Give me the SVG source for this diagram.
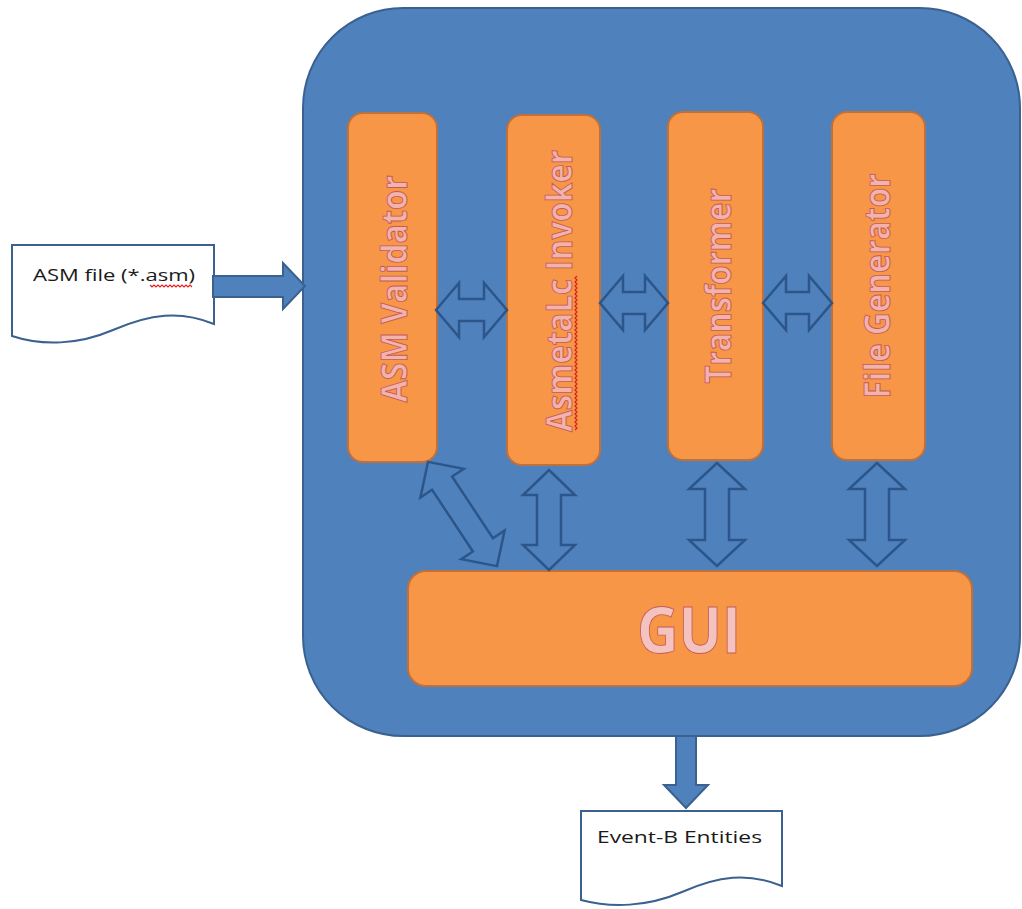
<svg xmlns="http://www.w3.org/2000/svg" width="1022" height="909" viewBox="0 0 1022 909">
  <style>
    .frame { fill: #4F81BD; stroke: #3A6190; stroke-width: 2; }
    .module { fill: #F79646; stroke: #C0703A; stroke-width: 2; }
    .doc { fill: #FFFFFF; stroke: #3A6190; stroke-width: 2; }
    .flow { fill: #4F81BD; stroke: #3A6190; stroke-width: 2; }
    .link { fill: none; stroke: #2C5689; stroke-width: 2.5; stroke-linejoin: miter; }
    .label { font-family: "Open Sans", "Liberation Sans", sans-serif; font-weight: 700; fill: #F2B2AD; stroke: #C65A55; stroke-width: 0.9; text-anchor: middle; }
    .doctext { font-family: "Open Sans", "Liberation Sans", sans-serif; font-size: 16px; fill: #1A1A1A; }
    .squiggle { fill: none; stroke: #E02020; stroke-width: 1.2; }
  </style>
  <rect width="1022" height="909" fill="#FFFFFF"/>

  <!-- system container -->
  <g id="system">
    <rect class="frame" x="303" y="8" width="717" height="728" rx="100" ry="100"/>
  </g>

  <!-- input document -->
  <g id="asm-file">
    <path class="doc" d="M12,245 H214 V324 C180,310 150,314 113,330 C78,345 42,346 12,336 Z"/>
    <text class="doctext" x="33" y="281" textLength="162" lengthAdjust="spacingAndGlyphs">ASM file (*.asm)</text>
    <path class="squiggle" d="M150,285 l2,2 l2,-2 l2,2 l2,-2 l2,2 l2,-2 l2,2 l2,-2 l2,2 l2,-2 l2,2 l2,-2 l2,2 l2,-2 l2,2 l2,-2 l2,2 l2,-2 l2,2 l2,-2 l2,2"/>
  </g>

  <!-- output document -->
  <g id="eventb-entities">
    <path class="doc" d="M581,811 H782 V886 C748,872 718,876 682,892 C647,907 611,908 581,900 Z"/>
    <text class="doctext" x="597" y="843" textLength="165" lengthAdjust="spacingAndGlyphs">Event-B Entities</text>
  </g>

  <!-- modules -->
  <g id="asm-validator">
    <rect class="module" x="348" y="113" width="89" height="349" rx="15" ry="15"/>
    <text class="label" font-size="35" transform="translate(407,289) rotate(-90)" textLength="227" lengthAdjust="spacingAndGlyphs">ASM Validator</text>
  </g>
  <g id="asmetalc-invoker">
    <rect class="module" x="507" y="115" width="93" height="350" rx="15" ry="15"/>
    <text class="label" font-size="35" transform="translate(572,291) rotate(-90)" textLength="282" lengthAdjust="spacingAndGlyphs">AsmetaLc Invoker</text>
    <path class="squiggle" d="M575,430 l2,-2 l-2,-2 l2,-2 l-2,-2 l2,-2 l-2,-2 l2,-2 l-2,-2 l2,-2 l-2,-2 l2,-2 l-2,-2 l2,-2 l-2,-2 l2,-2 l-2,-2 l2,-2 l-2,-2 l2,-2 l-2,-2 l2,-2 l-2,-2 l2,-2 l-2,-2 l2,-2 l-2,-2 l2,-2 l-2,-2 l2,-2 l-2,-2 l2,-2 l-2,-2 l2,-2 l-2,-2 l2,-2 l-2,-2 l2,-2 l-2,-2 l2,-2 l-2,-2 l2,-2 l-2,-2 l2,-2 l-2,-2 l2,-2 l-2,-2 l2,-2 l-2,-2 l2,-2 l-2,-2 l2,-2 l-2,-2 l2,-2 l-2,-2 l2,-2 l-2,-2 l2,-2 l-2,-2 l2,-2 l-2,-2 l2,-2 l-2,-2 l2,-2 l-2,-2 l2,-2 l-2,-2 l2,-2 l-2,-2 l2,-2 l-2,-2 l2,-2 l-2,-2 l2,-2 l-2,-2 l2,-2 l-2,-2 l2,-2"/>
  </g>
  <g id="transformer">
    <rect class="module" x="668" y="112" width="95" height="348" rx="15" ry="15"/>
    <text class="label" font-size="35" transform="translate(731,286) rotate(-90)" textLength="195" lengthAdjust="spacingAndGlyphs">Transformer</text>
  </g>
  <g id="file-generator">
    <rect class="module" x="832" y="112" width="93" height="348" rx="15" ry="15"/>
    <text class="label" font-size="35" transform="translate(890,286) rotate(-90)" textLength="225" lengthAdjust="spacingAndGlyphs">File Generator</text>
  </g>
  <g id="gui">
    <rect class="module" x="408" y="571" width="564" height="115" rx="18" ry="18"/>
    <text class="label" font-size="64" x="689" y="653" textLength="104" lengthAdjust="spacingAndGlyphs" style="fill:#F4C3C0">GUI</text>
  </g>

  <!-- connectors -->
  <g id="connectors">
    <path class="flow" d="M213,276 H283 V263 L305,286 L283,309 V297 H213 Z"/>
    <path class="flow" d="M676,736 H696 V785 H708 L686,808 L664,785 H676 Z"/>
    <path class="link" d="M436,310 L459,283 L459,299 L484,299 L484,283 L507,310 L484,337 L484,321 L459,321 L459,337 Z"/>
    <path class="link" d="M600,303 L623,276 L623,292 L645,292 L645,276 L668,303 L645,330 L645,314 L623,314 L623,330 Z"/>
    <path class="link" d="M763,303 L786,276 L786,292 L809,292 L809,276 L832,303 L809,330 L809,314 L786,314 L786,330 Z"/>
    <path class="link" d="M549,470 L575,495 L561,495 L561,545 L575,545 L549,570 L523,545 L537,545 L537,495 L523,495 Z"/>
    <path class="link" d="M717,463 L745,489 L729,489 L729,540 L745,540 L717,566 L689,540 L705,540 L705,489 L689,489 Z"/>
    <path class="link" d="M877,463 L905,489 L889,489 L889,540 L905,540 L877,566 L849,540 L865,540 L865,489 L849,489 Z"/>
    <path class="link" transform="translate(462.5,514) rotate(-33.5)" d="M0,-62.5 L26,-37 L12,-37 L12,37 L26,37 L0,62.5 L-26,37 L-12,37 L-12,-37 L-26,-37 Z"/>
  </g>
</svg>
